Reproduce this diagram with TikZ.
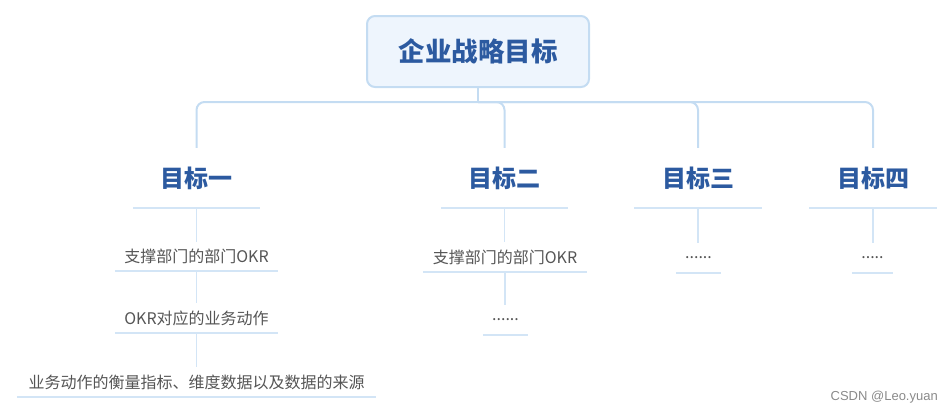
\documentclass[tikz,border=0pt]{standalone}
\usepackage{fontspec}
\setmainfont{Noto Sans CJK SC}
\newfontfamily\wmfont{Liberation Sans}
\definecolor{rootline}{HTML}{C4DCF2}
\definecolor{rootfill}{HTML}{EEF5FD}
\definecolor{titleblue}{HTML}{2C5AA0}
\definecolor{leafgray}{HTML}{555555}
\definecolor{conncol}{HTML}{C4DCF2}
\definecolor{subcol}{HTML}{D3E5F6}
\definecolor{ulinecol}{HTML}{D3E5F6}
\definecolor{wmgray}{HTML}{8A8A8A}
\begin{document}
\begin{tikzpicture}[x=1pt,y=-1pt,
  rootbox/.style={draw=rootline, line width=2pt, fill=rootfill, rounded corners=8pt,
    minimum width=222pt, minimum height=71pt, inner sep=0pt,
    font=\fontsize{26.5}{30}\selectfont\bfseries, text=titleblue},
  goalbox/.style={minimum width=127pt, minimum height=60pt, inner sep=0pt,
    font=\fontsize{24}{28}\selectfont\bfseries, text=titleblue},
  leafbox/.style={minimum height=30pt, inner sep=0pt,
    font=\fontsize{16}{19}\selectfont, text=leafgray},
  uline/.style={draw=ulinecol, line width=1.5pt},
  topconn/.style={draw=conncol, line width=2pt, rounded corners=8pt},
  subconn/.style={draw=subcol, line width=1.2pt}]
\useasboundingbox (0,0) rectangle (950,416);

% root
\node[rootbox] (root) at (478,51.5) {企业战略目标};

% goals
\node[goalbox] (g1) at (196.5,178) {目标一};
\node[goalbox] (g2) at (504.5,178) {目标二};
\node[goalbox] (g3) at (698,178) {目标三};
\node[goalbox] (g4) at (873,178) {目标四};

% leaves
\node[leafbox, minimum width=163pt, minimum height=29pt] (l11) at (196.5,256.5) {支撑部门的部门OKR};
\node[leafbox, minimum width=163pt] (l12) at (196.5,318) {OKR对应的业务动作};
\node[leafbox, minimum width=359pt] (l13) at (196.5,382) {业务动作的衡量指标、维度数据以及数据的来源};
\node[leafbox, minimum width=164pt] (l21) at (505,257) {支撑部门的部门OKR};
\node[leafbox, minimum width=45pt] (l22) at (505.5,320) {......};
\node[leafbox, minimum width=45pt] (l31) at (698.5,258) {......};
\node[leafbox, minimum width=41pt] (l41) at (872.5,258) {.....};

% top connectors
\coordinate (j) at (478,102);
\draw[topconn] (root.south) -- (j);
\draw[topconn] (j) -| (g1.north);
\draw[topconn] (j) -| (g2.north);
\draw[topconn] (j) -| (g3.north);
\draw[topconn] (j) -| (g4.north);

% underlines
\foreach \n in {g1,g2,g3,g4,l11,l12,l13,l21,l22,l31,l41}
  \draw[uline] (\n.south west) -- (\n.south east);

% sub connectors
\draw[subconn] (g1.south) -- (g1.south |- l11.north);
\draw[subconn] (l11.south) -- (l11.south |- l12.north);
\draw[subconn] (l12.south) -- (l12.south |- l13.north);
\draw[subconn] (g2.south) -- (g2.south |- l21.north);
\draw[subconn] (l21.south) -- (l21.south |- l22.north);
\draw[subconn] (g3.south) -- (g3.south |- l31.north);
\draw[subconn] (g4.south) -- (g4.south |- l41.north);

% watermark
\node[font=\wmfont\fontsize{13}{15}\selectfont, text=wmgray, anchor=east, inner sep=0pt] (wm) at (938,397) {CSDN @Leo.yuan};
\end{tikzpicture}
\end{document}
